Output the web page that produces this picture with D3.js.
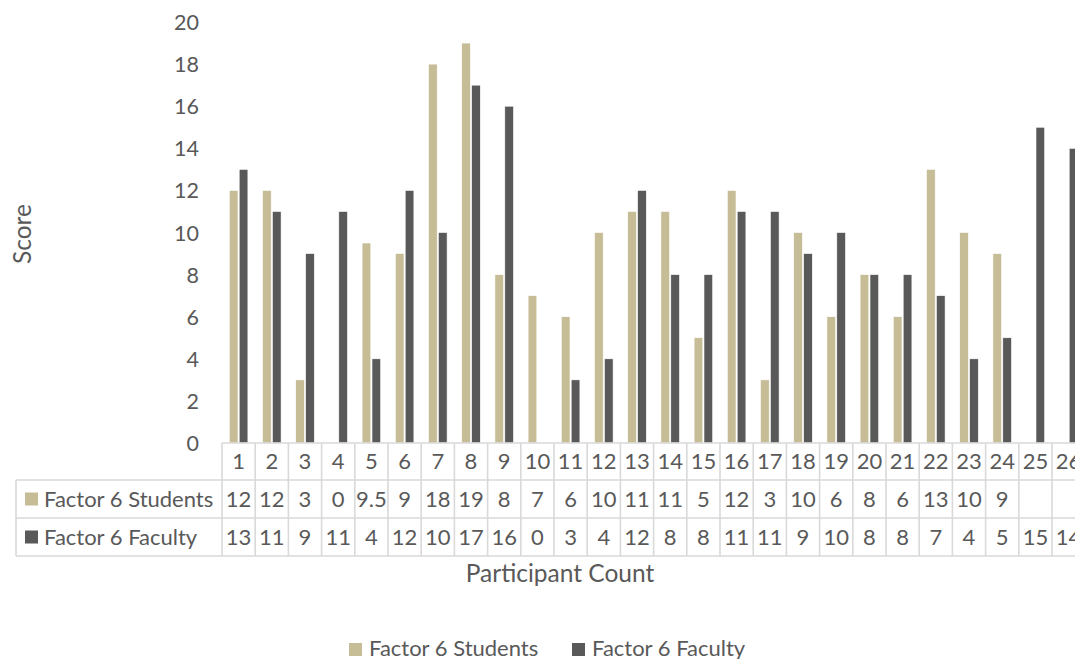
<!DOCTYPE html>
<html>
<head>
<meta charset="utf-8">
<script src="https://cdn.jsdelivr.net/npm/d3@7"></script>
<style>
  html, body { margin: 0; padding: 0; background: #fff; }
  svg { display: block; font-family: Lato, "Open Sans", sans-serif; }
</style>
</head>
<body>
<svg id="chart" width="1075" height="659"></svg>
<script>
// Participant numbers along the x axis
const categories = d3.range(1, 27).map(String);
// Scores for each participant (null = no response)
const studentScores = [12, 12, 3, 0, 9.5, 9, 18, 19, 8, 7, 6, 10, 11, 11, 5, 12, 3, 10, 6, 8, 6, 13, 10, 9, null, null];
const facultyScores = [13, 11, 9, 11, 4, 12, 10, 17, 16, 0, 3, 4, 12, 8, 8, 11, 11, 9, 10, 8, 8, 7, 4, 5, 15, 14];
const seriesNames = ["Factor 6 Students", "Factor 6 Faculty"];
const seriesColors = ["#c6bd97", "#595959"];
const yTicks = [0, 2, 4, 6, 8, 10, 12, 14, 16, 18, 20];

const series = [studentScores, facultyScores];

const svg = d3.select("#chart");
const textColor = "#595959";
const gridColor = "#d9d9d9";
const fontSize = 22;
const titleSize = 24.5;

const plotLeft = 222, catWidth = 33.2;
const plotTop = 22, plotBottom = 443;

const x = d3.scaleBand()
  .domain(categories)
  .range([plotLeft, plotLeft + catWidth * categories.length])
  .paddingInner(0).paddingOuter(0);

const groupWidth = 18.6;
const xSeries = d3.scaleBand()
  .domain(d3.range(series.length))
  .range([(catWidth - groupWidth) / 2, (catWidth + groupWidth) / 2])
  .paddingInner(0.12);

const y = d3.scaleLinear().domain([0, 20]).range([plotBottom, plotTop]);

// y axis: labels only, no line
const yAxis = d3.axisLeft(y).tickValues(yTicks).tickSize(0).tickPadding(0);
const yg = svg.append("g")
  .attr("transform", "translate(199,0)")
  .call(yAxis);
yg.select(".domain").remove();
yg.selectAll("text")
  .attr("fill", textColor)
  .attr("font-size", 21.5)
  .attr("font-family", "Lato, 'Open Sans', sans-serif")
  .attr("dy", "0.35em");

// bars
series.forEach((vals, si) => {
  svg.append("g")
    .selectAll("rect")
    .data(categories.map((c, i) => ({ c, v: vals[i] })).filter(d => d.v != null && d.v > 0))
    .join("rect")
    .attr("x", d => x(d.c) + xSeries(si))
    .attr("width", xSeries.bandwidth())
    .attr("y", d => y(d.v))
    .attr("height", d => y(0) - y(d.v))
    .attr("fill", seriesColors[si])
    .attr("stroke", "#fff")
    .attr("stroke-width", 0.6);
});

// data table under the plot
const rowEdges = [443, 480, 518, 556];
const tableLeft = 16;
const tableRight = x.range()[1];
const tg = svg.append("g");

// horizontal rules
tg.append("line")
  .attr("x1", plotLeft).attr("x2", tableRight)
  .attr("y1", rowEdges[0]).attr("y2", rowEdges[0]);
[1, 2, 3].forEach(r => {
  tg.append("line")
    .attr("x1", tableLeft).attr("x2", tableRight)
    .attr("y1", rowEdges[r]).attr("y2", rowEdges[r]);
});
// vertical rules
categories.forEach(c => {
  tg.append("line")
    .attr("x1", x(c)).attr("x2", x(c))
    .attr("y1", rowEdges[0]).attr("y2", rowEdges[3]);
});
tg.append("line")
  .attr("x1", tableRight).attr("x2", tableRight)
  .attr("y1", rowEdges[0]).attr("y2", rowEdges[3]);
tg.append("line")
  .attr("x1", tableLeft).attr("x2", tableLeft)
  .attr("y1", rowEdges[1]).attr("y2", rowEdges[3]);
tg.selectAll("line").attr("stroke", gridColor).attr("stroke-width", 1.6);

const rowMid = r => (rowEdges[r] + rowEdges[r + 1]) / 2;

// category labels
tg.append("g").selectAll("text")
  .data(categories)
  .join("text")
  .attr("x", d => x(d) + catWidth / 2)
  .attr("y", rowMid(0))
  .attr("dy", "0.35em")
  .attr("text-anchor", "middle")
  .attr("font-size", fontSize)
  .attr("fill", textColor)
  .text(d => d);

// value rows with legend keys
series.forEach((vals, si) => {
  const r = si + 1;
  tg.append("rect")
    .attr("x", 25).attr("y", rowMid(r) - 6.5)
    .attr("width", 13).attr("height", 13)
    .attr("fill", seriesColors[si]);
  tg.append("text")
    .attr("x", 44).attr("y", rowMid(r))
    .attr("dy", "0.35em")
    .attr("font-size", fontSize)
    .attr("fill", textColor)
    .text(seriesNames[si]);
  tg.append("g").selectAll("text")
    .data(categories.map((c, i) => ({ c, v: vals[i] })).filter(d => d.v != null))
    .join("text")
    .attr("x", d => x(d.c) + catWidth / 2)
    .attr("y", rowMid(r))
    .attr("dy", "0.35em")
    .attr("text-anchor", "middle")
    .attr("font-size", fontSize)
    .attr("fill", textColor)
    .text(d => d.v);
});

// axis titles
svg.append("text")
  .attr("transform", "translate(22,234) rotate(-90)")
  .attr("dy", "0.35em")
  .attr("text-anchor", "middle")
  .attr("font-size", titleSize)
  .attr("fill", textColor)
  .text("Score");

svg.append("text")
  .attr("x", 560).attr("y", 573)
  .attr("dy", "0.35em")
  .attr("text-anchor", "middle")
  .attr("font-size", titleSize)
  .attr("fill", textColor)
  .text("Participant Count");

// legend
const legendItems = [{ x: 349 }, { x: 572 }];
const lg = svg.append("g");
legendItems.forEach((it, si) => {
  lg.append("rect")
    .attr("x", it.x).attr("y", 643)
    .attr("width", 13).attr("height", 13)
    .attr("fill", seriesColors[si]);
  lg.append("text")
    .attr("x", it.x + 20).attr("y", 648)
    .attr("dy", "0.35em")
    .attr("font-size", fontSize)
    .attr("fill", textColor)
    .text(seriesNames[si]);
});
</script>
</body>
</html>
